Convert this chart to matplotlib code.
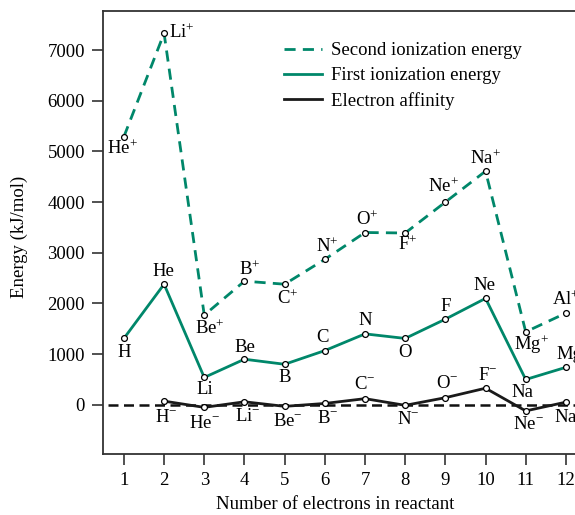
import matplotlib
matplotlib.use('Agg')
import matplotlib.pyplot as plt

plt.rcParams['font.family'] = 'Liberation Serif'
plt.rcParams['mathtext.fontset'] = 'custom'
plt.rcParams['mathtext.rm'] = 'Liberation Serif'
plt.rcParams['mathtext.it'] = 'Liberation Serif'
plt.rcParams['font.size'] = 13.5

# data
n_second = [2, 3, 4, 5, 6, 7, 8, 9, 10, 11, 12, 13]
second_ie = [5290, 7330, 1770, 2440, 2380, 2870, 3400, 3390, 4000, 4610, 1440, 1810]
second_lab = ['He', 'Li', 'Be', 'B', 'C', 'N', 'O', 'F', 'Ne', 'Na', 'Mg', 'Al']

n_first = [1, 2, 3, 4, 5, 6, 7, 8, 9, 10, 11, 12]
first_ie = [1310, 2380, 540, 900, 800, 1070, 1400, 1310, 1690, 2100, 500, 740]
first_lab = ['H', 'He', 'Li', 'Be', 'B', 'C', 'N', 'O', 'F', 'Ne', 'Na', 'Mg']

n_ea = [2, 3, 4, 5, 6, 7, 8, 9, 10, 11, 12]
ea = [73, -50, 60, -30, 27, 122, -10, 141, 328, -120, 53]
ea_lab = ['H', 'He', 'Li', 'Be', 'B', 'C', 'N', 'O', 'F', 'Ne', 'Na']

# label offsets in pixels (dx, dy)
second_off = [(-2, -12), (5, 1), (6, -14), (5, 12), (3, -14), (2, 13), (2, 13), (2, -12), (-2, 15), (0, 13), (6, -13), (0, 13)]
second_ha = ['center', 'left', 'center', 'center', 'center', 'center', 'center', 'center', 'center', 'center', 'center', 'center']
first_off = [(0, -14), (-1, 13), (1, -12), (0, 12), (0, -13), (-2, 13), (0, 13), (0, -14), (0, 13), (-1, 13), (-3, -13), (3, 13)]
ea_off = [(2, -16), (0, -16), (3, -15), (3, -15), (3, -15), (0, 14), (3, -14), (2, 14), (2, 13), (3, -14), (3, -15)]

green = '#00876a'
mk = dict(marker='o', markersize=4.2, markerfacecolor='white', markeredgecolor='black', markeredgewidth=0.9)

fig = plt.figure(figsize=(5.75, 5.15), dpi=100)
ax = fig.add_axes([103 / 575, 61 / 515, 483 / 575, 443 / 515])

ax.hlines(0, 0.6, 12.5, colors='#111111', linestyles=(0, (4, 2.2)), linewidth=1.8, zorder=1)

l2, = ax.plot([x - 1 for x in n_second], second_ie, color=green, linestyle=(0, (4, 2.6)), linewidth=2.0,
              label='Second ionization energy', zorder=2)
ax.plot([x - 1 for x in n_second], second_ie, linestyle='none', zorder=3, **mk)
l1, = ax.plot(n_first, first_ie, color=green, linewidth=2.0, label='First ionization energy', zorder=2)
ax.plot(n_first, first_ie, linestyle='none', zorder=3, **mk)
l3, = ax.plot(n_ea, ea, color='#1a1a1a', linewidth=2.0, label='Electron affinity', zorder=2)
ax.plot(n_ea, ea, linestyle='none', zorder=3, **mk)

for x, y, s, o, h in zip(n_second, second_ie, second_lab, second_off, second_ha):
    ax.annotate(s + '$^{+}$', (x - 1, y), xytext=o, textcoords='offset pixels', ha=h, va='center')
for x, y, s, o in zip(n_first, first_ie, first_lab, first_off):
    ax.annotate(s, (x, y), xytext=o, textcoords='offset pixels', ha='center', va='center')
for x, y, s, o in zip(n_ea, ea, ea_lab, ea_off):
    ax.annotate(s + '$^{-}$', (x, y), xytext=o, textcoords='offset pixels', ha='center', va='center')

ax.set_xlim(0.48, 12.5)
ax.set_ylim(-970, 7770)
ax.set_xticks(range(1, 13))
ax.set_yticks([0, 1000, 2000, 3000, 4000, 5000, 6000, 7000])
ax.spines['right'].set_visible(False)
for sp in ax.spines.values():
    sp.set_linewidth(1.3)
    sp.set_color('#333333')
ax.tick_params(direction='out', length=8, width=1.2, color='#333333', labelsize=13.5, pad=5)

ax.set_xlabel('Number of electrons in reactant')
ax.xaxis.set_label_coords((335 - 103) / 483, -0.094)
ax.set_ylabel('Energy (kJ/mol)')
ax.yaxis.set_label_coords(-0.155, 0.49)

ax.legend(handles=[l2, l1, l3], loc='upper left', bbox_to_anchor=((284 - 103) / 483, 1 - 31 / 443),
          frameon=False, borderpad=0, borderaxespad=0, handlelength=2.0, handletextpad=0.5,
          labelspacing=0.42)

fig.savefig('out.png', dpi=100)
